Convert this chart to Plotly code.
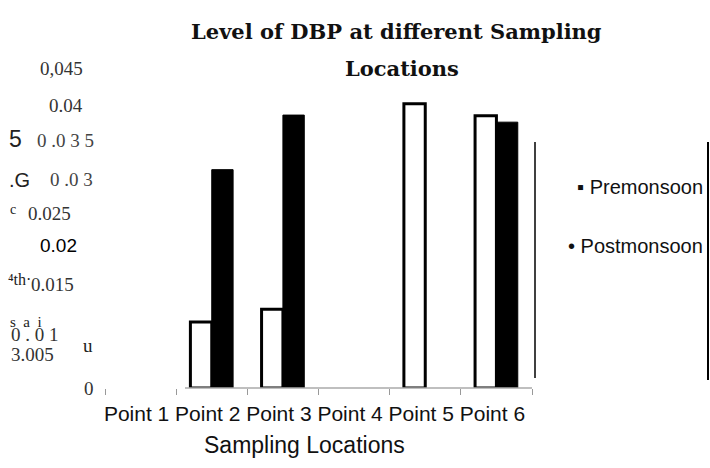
import plotly.graph_objects as go

# ---- data ----
categories = ["Point 1", "Point 2", "Point 3", "Point 4", "Point 5", "Point 6"]
premonsoon = [None, 0.0093, 0.0111, None, 0.0401, 0.0384]
postmonsoon = [None, 0.0308, 0.0385, None, None, 0.0375]
series_names = ["Premonsoon", "Postmonsoon"]
title_lines = ["Level of DBP at different Sampling", "Locations"]
x_title = "Sampling Locations"
y_tick_values = [0.045, 0.04, 0.035, 0.03, 0.025, 0.02, 0.015, 0.01, 0.005, 0]
y_tick_texts = ["0,045", "0.04", "0 .0 3 5", "0 .0 3", "0.025", "0.02", "0.015", "0 . 0 1", "3.005", "0"]

W, H = 710, 468
L, R, T, B = 105, 178, 69, 80
PW, PH = W - L - R, H - T - B


def px(x):
    return (x - L) / PW


def py(y):
    return (H - B - y) / PH


fig = go.Figure()
fig.add_trace(go.Bar(x=categories, y=premonsoon, name=series_names[0],
                     marker=dict(color="white", line=dict(color="black", width=3))))
fig.add_trace(go.Bar(x=categories, y=postmonsoon, name=series_names[1],
                     marker=dict(color="black", line=dict(color="black", width=1))))

serif = "Liberation Serif"
sans = "Liberation Sans"
ann = []

# y tick labels (positions as they appear)
ytl_pos = [(38, 68, serif, 19, "#333"), (47, 105, serif, 19, "#333"), (35, 140, serif, 19, "#444"),
           (48, 179, serif, 19, "#444"), (26, 213, serif, 19, "#333"), (38, 245, sans, 19, "#000"),
           (29, 284, serif, 19, "#333"), (9, 334, serif, 19, "#333"), (9, 354, serif, 19, "#333"),
           (82, 389, serif, 19, "#333")]
for txt, (x0, y0, fam, sz, col) in zip(y_tick_texts, ytl_pos):
    ann.append(dict(text=txt, x=px(x0), y=py(y0), xref="paper", yref="paper", xanchor="left",
                    yanchor="middle", showarrow=False, font=dict(family=fam, size=sz, color=col)))

# stray characters
stray = [("5", 7, 139, sans, 23), (".G", 7, 180, sans, 20), ("c", 8, 209, serif, 14),
         ("⁴th·", 6, 279, serif, 16), ("s  a  i", 8, 322, serif, 15), ("u", 81, 345, serif, 19)]
for txt, x0, y0, fam, sz in stray:
    ann.append(dict(text=txt, x=px(x0), y=py(y0), xref="paper", yref="paper", xanchor="left",
                    yanchor="middle", showarrow=False, font=dict(family=fam, size=sz, color="#222")))

# title
ann.append(dict(text="<b>" + title_lines[0] + "</b>", x=px(396), y=py(32), xref="paper", yref="paper",
                xanchor="center", yanchor="middle", showarrow=False,
                font=dict(family="DejaVu Serif", size=21, color="#111")))
ann.append(dict(text="<b>" + title_lines[1] + "</b>", x=px(402), y=py(68), xref="paper", yref="paper",
                xanchor="center", yanchor="middle", showarrow=False,
                font=dict(family="DejaVu Serif", size=21, color="#111")))

# x axis title
ann.append(dict(text=x_title, x=px(304), y=py(445), xref="paper", yref="paper",
                xanchor="center", yanchor="middle", showarrow=False,
                font=dict(family=sans, size=23, color="#111")))

# legend
ann.append(dict(text="▪ " + series_names[0], x=px(705), y=py(187), xref="paper", yref="paper",
                xanchor="right", yanchor="middle", showarrow=False,
                font=dict(family=sans, size=20, color="#111")))
ann.append(dict(text="• " + series_names[1], x=px(705), y=py(246), xref="paper", yref="paper",
                xanchor="right", yanchor="middle", showarrow=False,
                font=dict(family=sans, size=20, color="#111")))

shapes = [
    dict(type="line", xref="paper", yref="paper", x0=px(535), x1=px(535), y0=py(142), y1=py(378),
         line=dict(color="black", width=1.5)),
    dict(type="line", xref="paper", yref="paper", x0=px(708), x1=px(708), y0=py(142), y1=py(380),
         line=dict(color="black", width=2)),
    dict(type="line", xref="paper", yref="paper", x0=px(185), x1=px(532), y0=0, y1=0,
         line=dict(color="#aaa", width=1.5)),
]

fig.update_layout(
    width=W, height=H, margin=dict(l=L, r=R, t=T, b=B, autoexpand=False),
    paper_bgcolor="white", plot_bgcolor="white",
    barmode="group", bargap=0.4, bargroupgap=0,
    showlegend=False, annotations=ann, shapes=shapes,
    xaxis=dict(type="category", categoryorder="array", categoryarray=categories,
               showline=False, showgrid=False, zeroline=False, automargin=False,
               tickson="boundaries", ticks="outside", ticklen=6, tickcolor="#999", tickwidth=1,
               tickangle=0,
               tickfont=dict(family=sans, size=21, color="#111"),
               ticklabelstandoff=11, ticklabelshift=-4),
    yaxis=dict(range=[0, 0.045], showticklabels=False, showgrid=False, zeroline=False,
               showline=False, ticks="", tickvals=y_tick_values, automargin=False),
)

fig.write_html("out.html", config={"displayModeBar": False},
               post_script="document.body.style.margin='0';document.body.style.overflow='hidden';")
